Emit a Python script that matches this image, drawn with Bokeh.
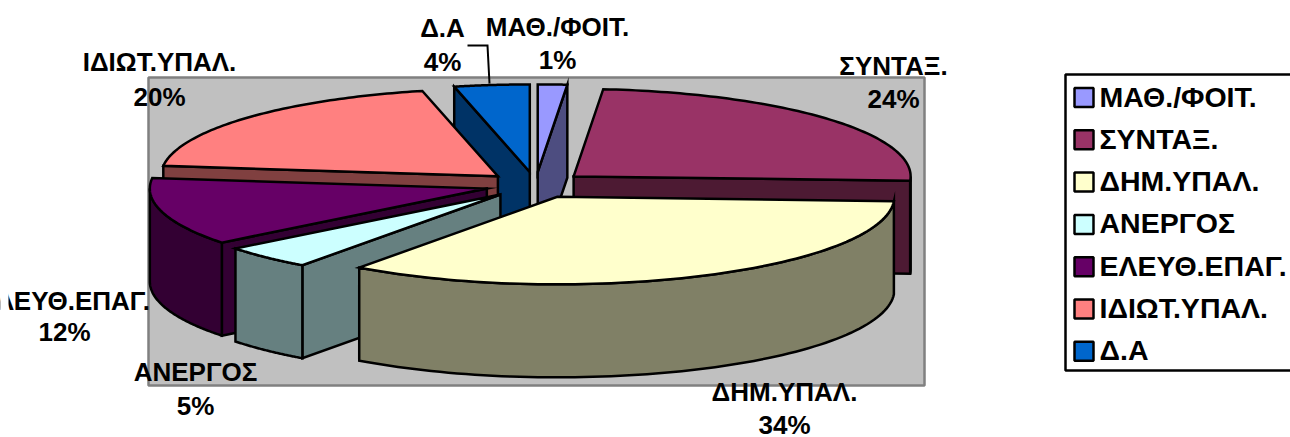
import numpy as np
from bokeh.plotting import figure
from bokeh.embed import file_html
from bokeh.resources import INLINE
from bokeh.core.properties import value

# ---- data -------------------------------------------------------------
categories = ["ΜΑΘ./ΦΟΙΤ.", "ΣΥΝΤΑΞ.", "ΔΗΜ.ΥΠΑΛ.", "ΑΝΕΡΓΟΣ", "ΕΛΕΥΘ.ΕΠΑΓ.", "ΙΔΙΩΤ.ΥΠΑΛ.", "Δ.Α"]
shares = [1.4, 24.4, 34.2, 4.4, 12.5, 19.5, 3.6]
percent_labels = ["1%", "24%", "34%", "5%", "12%", "20%", "4%"]
top_colors = ["#9999FF", "#993366", "#FFFFCC", "#CCFFFF", "#660066", "#FF8080", "#0066CC"]
side_colors = ["#4D4D80", "#4D1A33", "#808066", "#668080", "#330033", "#804040", "#003366"]

# label anchors (centre x, name y, percent y) in page pixels
label_x = [557, 893, 784, 195, 64, 159, 442]
label_name_y = [26, 65, 391, 371, 300, 61, 27]
label_pct_y = [59, 98, 424, 405, 331, 96, 61]

# ---- layout ------------------------------------------------------------
W, H = 1290, 437
CX, CY = 535.0, 184.5      # pie centre on the page
RX, RY = 337.0, 87.5       # top ellipse radii
DEPTH = 93.0               # extrusion
EXPLODE = 0.15
PLOT = (148, 924, 77, 385)
LEG = (1065, 1300, 74, 370)
OUT = "#000000"
LW = 2.5

p = figure(width=W, height=H, x_range=(0, W), y_range=(H, 0),
           toolbar_location=None, output_backend="svg", min_border=0,
           background_fill_color="#FFFFFF", border_fill_color="#FFFFFF")
p.axis.visible = False
p.grid.visible = False
p.outline_line_color = None

# plot background
p.quad(left=[PLOT[0]], right=[PLOT[1]], top=[PLOT[2]], bottom=[PLOT[3]],
       fill_color="#C0C0C0", line_color="#808080", line_width=2.5)


def arc(cx, cy, a0, a1, n=80):
    t = np.radians(np.linspace(a0, a1, n))
    return cx + RX * np.cos(t), cy + RY * np.sin(t)


# wedge angle extents, clockwise from 12 o'clock
total = sum(shares)
edges = [-90.0]
for s in shares:
    edges.append(edges[-1] + 360.0 * s / total)

wedges = []
for i in range(len(shares)):
    a0, a1 = edges[i], edges[i + 1]
    mid = np.radians((a0 + a1) / 2)
    ax = CX + EXPLODE * RX * np.cos(mid)
    ay = CY + EXPLODE * RY * np.sin(mid)
    wedges.append((a0, a1, ax, ay))


def face(xs, ys, col):
    xs = list(xs)
    ys = list(ys)
    px = xs + xs[::-1]
    py = ys + [y + DEPTH for y in ys[::-1]]
    p.patch(px, py, fill_color=col, line_color=OUT, line_width=LW, line_join="miter")


# paint back to front
order = [6, 0, 1, 5, 4, 3, 2]
for i in order:
    a0, a1, ax, ay = wedges[i]
    # cut faces turned to the viewer
    if np.cos(np.radians(a0)) < 0:
        rx, ry = arc(ax, ay, a0, a0, 1)
        face([ax, rx[0]], [ay, ry[0]], side_colors[i])
    if np.cos(np.radians(a1)) > 0:
        rx, ry = arc(ax, ay, a1, a1, 1)
        face([ax, rx[0]], [ay, ry[0]], side_colors[i])
    # outer rim, front half only
    lo, hi = max(a0, 0.0), min(a1, 180.0)
    if hi > lo:
        rx, ry = arc(ax, ay, lo, hi)
        face(rx, ry, side_colors[i])
    # top
    rx, ry = arc(ax, ay, a0, a1)
    p.patch([ax] + list(rx), [ay] + list(ry), fill_color=top_colors[i],
            line_color=OUT, line_width=LW, line_join="miter")

# leader line for Δ.Α
p.line([467, 487, 489], [45, 45, 83], line_color=OUT, line_width=2, line_join="miter")

# data labels
FONT = value("Liberation Sans")
p.text(label_x, label_name_y, text=categories, text_font=FONT, text_font_style="bold",
       text_font_size="26px", text_align="center", text_baseline="middle", text_color="#000000")
p.text(label_x, label_pct_y, text=percent_labels, text_font=FONT, text_font_style="bold",
       text_font_size="26px", text_align="center", text_baseline="middle", text_color="#000000")

# the reference's left edge cuts the ΕΛΕΥΘ.ΕΠΑΓ. label
p.quad(left=[-2], right=[8], top=[-2], bottom=[H + 2], fill_color="#FFFFFF", line_color=None)

# legend
p.quad(left=[LEG[0]], right=[LEG[1]], top=[LEG[2]], bottom=[LEG[3]],
       fill_color="#FFFFFF", line_color=OUT, line_width=2.5)
row0, step = 96.0, 42.3
rows = [row0 + step * k for k in range(len(categories))]
p.quad(left=[1074] * len(rows), right=[1093] * len(rows),
       top=[r - 8.5 for r in rows], bottom=[r + 10.5 for r in rows],
       fill_color=top_colors, line_color=OUT, line_width=2.5)
p.text([1099] * len(rows), rows, text=categories, text_font=FONT, text_font_style="bold",
       text_font_size="28.5px", text_align="left", text_baseline="middle", text_color="#000000")

open("out.html", "w").write(file_html(p, INLINE))
